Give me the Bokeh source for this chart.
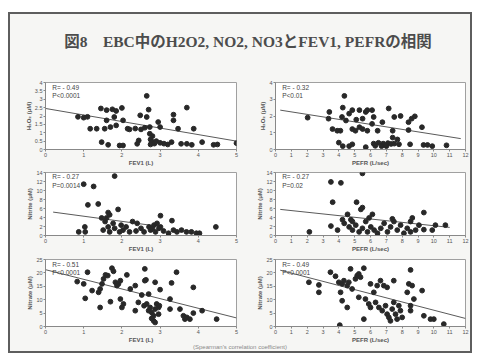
from bokeh.plotting import figure
from bokeh.models import Range1d, FixedTicker, Label, Div
from bokeh.layouts import column, row
from bokeh.embed import file_html
from bokeh.resources import INLINE

TITLE = "図8　EBC中のH2O2, NO2, NO3とFEV1, PEFRの相関"
FOOTER = "(Spearman's correlation coefficient)"

FEV_TICKS = [0, 1, 2, 3, 4, 5]
PEFR_TICKS = list(range(0, 13))
H2O2_TICKS_A = [0, 0.5, 1, 1.5, 2, 2.5, 3, 3.5, 4]
H2O2_TICKS_B = [0, 1, 2, 3, 4]
NITRITE_TICKS = [0, 2, 4, 6, 8, 10, 12, 14]
NITRATE_TICKS = [0, 5, 10, 15, 20, 25]

# Panel 1: FEV1 vs H2O2
fev_h2o2_x = [0.85, 1.0, 1.1, 1.17, 1.34, 1.47, 1.45, 1.6, 1.75, 1.85, 2.0, 1.6, 1.55, 1.7, 1.85, 1.8, 2.03,
              1.64, 1.94, 2.03, 2.15, 2.2, 2.35, 2.5, 2.6, 2.44, 2.4, 2.48, 2.65, 2.7, 2.65, 2.73, 2.73,
              2.75, 2.8, 2.85, 2.9, 3.0, 3.1, 3.2, 2.8, 2.75, 2.95, 3.0, 3.35, 3.35, 3.47, 3.3, 3.7,
              3.55, 3.7, 3.83, 3.88, 4.1, 4.4, 4.5, 5.0]
fev_h2o2_y = [1.95, 1.9, 1.95, 1.24, 1.24, 0.44, 2.45, 2.35, 2.4, 2.3, 2.48, 1.74, 1.24, 1.34, 1.44, 1.94, 1.74,
              0.28, 0.24, 0.24, 1.24, 1.2, 1.25, 1.2, 1.3, 0.54, 0.34, 2.04, 3.2, 2.38, 1.94, 1.34, 0.94,
              0.6, 0.45, 0.35, 0.5, 0.4, 0.35, 0.3, 0.8, 0.3, 1.64, 1.34, 1.74, 2.08, 1.24, 0.44, 2.5,
              0.34, 0.34, 0.28, 1.24, 0.44, 0.28, 0.3, 0.38]
fev_h2o2_fit_x = [0, 5]
fev_h2o2_fit_y = [2.45, 0.5]

# Panel 2: PEFR vs H2O2
pefr_h2o2_x = [2.03, 3.4, 3.35, 3.6, 3.9, 4.1, 4.35, 4.25, 4.2, 4.45, 4.0, 4.25, 4.65, 4.85, 4.65, 4.85, 5.3,
               5.7, 5.8, 4.85, 5.05, 5.3, 5.5, 5.8, 5.1, 5.5, 5.7, 6.1, 6.2, 6.1, 6.45, 6.75, 6.2, 6.5, 6.8,
               7.1, 7.3, 7.5, 6.3, 6.7, 7.0, 7.15, 7.4, 7.4, 7.7, 7.8, 7.5, 7.9, 8.4, 8.6, 8.8, 8.4, 8.5,
               9.25, 9.35, 9.6, 9.9, 10.8]
pefr_h2o2_y = [1.9, 2.24, 1.84, 1.22, 1.12, 1.12, 3.2, 2.5, 1.94, 1.73, 0.41, 0.2, 0.2, 0.31, 2.14, 2.35, 2.35,
               2.24, 2.35, 1.22, 1.12, 1.33, 1.22, 1.12, 1.78, 1.84, 0.14, 2.35, 1.94, 1.53, 1.12, 1.63, 0.35,
               0.4, 0.35, 0.38, 0.33, 0.35, 0.22, 0.2, 0.2, 2.45, 1.12, 0.71, 0.6, 0.31, 1.94, 2.0, 1.63,
               1.84, 1.98, 1.16, 0.31, 1.33, 0.27, 0.27, 0.2, 0.25]
pefr_h2o2_fit_x = [0.3, 11.7]
pefr_h2o2_fit_y = [2.35, 0.65]

# Panel 3: FEV1 vs Nitrite
fev_nitrite_x = [1.81, 1.0, 1.26, 1.11, 1.38, 1.64, 1.9, 1.47, 1.56, 1.03, 0.87, 1.04, 2.28, 3.01, 3.31, 4.46,
                 1.51, 1.64, 1.68, 1.81, 1.94, 2.03, 2.11, 2.2, 2.37, 2.5, 2.58, 2.71, 2.75, 2.84, 2.88,
                 2.97, 3.01, 3.09, 3.22, 3.35, 3.44, 3.56, 3.69, 3.82, 3.95, 4.03,
                 1.6, 1.77, 1.98, 2.8, 2.92, 2.4, 1.68]
fev_nitrite_y = [13.2, 11.4, 10.9, 6.8, 7.0, 5.1, 5.8, 3.9, 3.1, 1.9, 0.8, 0.8, 3.1, 4.4, 3.3, 1.9,
                 1.2, 1.9, 0.8, 1.6, 0.8, 1.2, 1.9, 0.8, 1.0, 1.6, 0.8, 1.9, 1.2, 2.3, 0.8,
                 1.6, 1.9, 1.0, 0.5, 1.2, 0.8, 1.2, 0.8, 0.8, 0.5, 0.5,
                 3.9, 2.7, 2.3, 1.5, 2.7, 2.7, 4.6]
fev_nitrite_fit_x = [0.2, 3.0]
fev_nitrite_fit_y = [5.2, 2.0]

# Panel 4: PEFR vs Nitrite
pefr_nitrite_x = [5.49, 3.5, 4.13, 3.61, 5.12, 5.39, 5.49, 6.12, 9.37, 4.55, 4.76, 3.5, 3.92, 2.14, 8.64, 8.53,
                  10.1, 10.73, 9.9, 9.37,
                  4.34, 4.65, 4.86, 5.07, 5.28, 5.49, 5.7, 5.81, 6.02, 6.23, 6.44, 6.65, 6.86, 7.07, 7.27,
                  7.48, 7.69, 7.9, 8.11, 8.32, 8.53, 8.85, 9.06, 4.23, 5.91, 4.86, 7.38]
pefr_nitrite_y = [13.8, 11.9, 11.7, 7.4, 7.4, 5.8, 6.2, 4.7, 5.1, 4.7, 3.5, 2.1, 1.2, 0.8, 3.9, 3.1,
                  2.3, 2.3, 1.2, 1.3,
                  2.7, 1.9, 1.2, 2.3, 0.8, 1.6, 3.1, 0.8, 1.9, 1.2, 0.5, 1.6, 2.7, 0.8, 1.9,
                  3.1, 1.2, 2.3, 0.5, 1.6, 0.8, 1.2, 2.3, 3.5, 3.9, 3.1, 3.7]
pefr_nitrite_fit_x = [0.3, 11.0]
pefr_nitrite_fit_y = [5.8, 1.8]

# Panel 5: FEV1 vs Nitrate
fev_nitrate_x = [0.83, 1.1, 1.0, 1.04, 1.22, 1.39, 1.43, 1.43, 1.52, 1.57, 1.63, 1.48, 1.7, 1.74, 1.78, 1.83,
                 1.91, 1.96, 1.87, 1.96, 2.0, 2.04, 2.13, 2.22, 2.35, 2.35, 2.43, 2.6, 2.6, 2.63, 2.52, 2.7,
                 2.58, 2.65, 2.7, 2.74, 2.78, 2.83, 2.83, 2.87, 2.91, 2.96, 2.78, 2.87, 2.96, 2.98,
                 2.87, 3.0, 3.26, 3.3, 3.43, 3.26, 3.52, 3.61, 3.65, 3.7, 3.78, 3.87, 3.87, 4.1, 4.48]
fev_nitrate_y = [16.75, 20.25, 15.9, 10.5, 13.4, 12.75, 14.0, 7.1, 17.75, 19.25, 19.0, 15.9, 9.25, 21.75, 20.6, 16.5,
                 15.9, 17.1, 15.25, 10.25, 7.1, 8.4, 19.25, 14.0, 5.9, 15.25, 9.0, 21.5, 17.1, 17.4, 11.75, 12.1,
                 7.75, 8.4, 5.9, 7.1, 5.25, 4.0, 2.1, 6.5, 8.4, 7.1, 3.0, 1.5, 4.6, 7.75,
                 16.5, 13.75, 6.5, 16.25, 20.25, 10.25, 6.5, 4.0, 2.75, 3.4, 2.75, 5.0, 14.6, 5.9, 2.75]
fev_nitrate_fit_x = [0, 5]
fev_nitrate_fit_y = [21.2, 3.2]

# Panel 6: PEFR vs Nitrate
pefr_nitrate_x = [2.11, 2.74, 2.74, 3.47, 3.79, 4.0, 4.21, 4.32, 4.53, 4.63, 4.11, 4.21, 4.53, 4.06, 4.74, 4.84,
                  5.05, 5.16, 5.26, 5.37, 5.58, 5.26, 5.58, 5.68, 5.89, 6.0, 6.0, 6.21, 6.42, 6.63,
                  6.32, 6.53, 6.74, 6.95, 7.05, 7.16, 7.26, 7.37, 7.47, 7.58, 7.68, 7.79, 7.89, 8.0,
                  6.84, 7.05, 7.47, 8.42, 8.53, 8.63, 8.32, 8.74, 8.53, 8.53, 9.26, 9.37, 9.79, 10.0, 10.63]
pefr_nitrate_y = [16.5, 12.75, 15.5, 20.25, 18.75, 16.5, 15.9, 17.1, 15.25, 16.5, 12.75, 9.6, 7.1, 0.5, 21.5, 14.0,
                  17.75, 19.0, 19.6, 18.4, 21.75, 10.9, 2.75, 10.25, 8.4, 7.1, 15.9, 12.75, 15.25, 17.1,
                  9.0, 7.1, 5.9, 7.75, 4.6, 3.4, 2.1, 6.5, 9.0, 4.6, 2.75, 7.75, 5.9, 3.4,
                  15.25, 14.6, 17.1, 15.9, 21.1, 15.25, 12.75, 10.25, 5.9, 7.75, 13.4, 4.0, 2.75, 2.75, 0.9]
pefr_nitrate_fit_x = [0.3, 12.0]
pefr_nitrate_fit_y = [21.0, 3.0]

BG = "#f6f6f4"
EDGE = "#5e5e5e"
TXT = "#555555"
FONT = "Liberation Sans"


def panel(xs, ys, fx, fy, xmax, xticks, ymax, yticks, xlabel, ylabel, rtxt, ptxt, left, h, top, bottom):
    p = figure(width=230, height=h, x_range=Range1d(0, xmax), y_range=Range1d(0, ymax),
               output_backend="svg", toolbar_location=None,
               min_border_left=35, min_border_right=4 if left else 5,
               min_border_top=top, min_border_bottom=bottom)
    p.background_fill_color = "white"
    p.border_fill_color = BG
    p.outline_line_color = "#a0a0a0"
    p.outline_line_width = 1
    p.grid.visible = False
    for ax, ticks, lab in ((p.xaxis[0], xticks, xlabel), (p.yaxis[0], yticks, ylabel)):
        ax.ticker = FixedTicker(ticks=ticks)
        ax.major_label_overrides = {t: f"{t:g}" for t in ticks}
        ax.axis_label = lab
        ax.axis_label_text_font = FONT
        ax.axis_label_text_font_size = "6px"
        ax.axis_label_text_font_style = "bold"
        ax.axis_label_text_color = TXT
        ax.axis_label_standoff = 0
        ax.major_label_text_font = FONT
        ax.major_label_text_font_size = "5.5px"
        ax.major_label_text_color = TXT
        ax.major_label_standoff = 1
        ax.axis_line_color = "#888888"
        ax.major_tick_line_color = "#888888"
        ax.major_tick_out = 2
        ax.major_tick_in = 0
        ax.minor_tick_line_color = None
    p.line(fx, fy, line_color="#5a5a5a", line_width=1)
    p.scatter(xs, ys, size=4.8, fill_color="#282828", line_color="#282828")
    p.add_layout(Label(x=xmax * 0.035, y=ymax * 0.93, text=rtxt, text_font=FONT, text_font_size="6.5px",
                       text_color="#444444", text_baseline="middle"))
    p.add_layout(Label(x=xmax * 0.035, y=ymax * 0.80, text=ptxt, text_font=FONT, text_font_size="6.5px",
                       text_color="#444444", text_baseline="middle"))
    return p


p1 = panel(fev_h2o2_x, fev_h2o2_y, fev_h2o2_fit_x, fev_h2o2_fit_y, 5, FEV_TICKS, 4, H2O2_TICKS_A,
           "FEV1 (L)", "H₂O₂ (μM)", "R= - 0.49", "P<0.0001", True, 95, 8, 20)
p2 = panel(pefr_h2o2_x, pefr_h2o2_y, pefr_h2o2_fit_x, pefr_h2o2_fit_y, 12, PEFR_TICKS, 4, H2O2_TICKS_B,
           "PEFR (L/sec)", "H₂O₂ (μM)", "R= - 0.32", "P<0.01", False, 95, 8, 20)
p3 = panel(fev_nitrite_x, fev_nitrite_y, fev_nitrite_fit_x, fev_nitrite_fit_y, 5, FEV_TICKS, 14, NITRITE_TICKS,
           "FEV1 (L)", "Nitrite (μM)", "R= - 0.27", "P=0.0014", True, 86, 3, 20)
p4 = panel(pefr_nitrite_x, pefr_nitrite_y, pefr_nitrite_fit_x, pefr_nitrite_fit_y, 12, PEFR_TICKS, 14, NITRITE_TICKS,
           "PEFR (L/sec)", "Nitrite (μM)", "R= - 0.27", "P=0.02", False, 86, 3, 20)
p5 = panel(fev_nitrate_x, fev_nitrate_y, fev_nitrate_fit_x, fev_nitrate_fit_y, 5, FEV_TICKS, 25, NITRATE_TICKS,
           "FEV1 (L)", "Nitrate (μM)", "R= - 0.51", "P<0.0001", True, 91, 4, 20)
p6 = panel(pefr_nitrate_x, pefr_nitrate_y, pefr_nitrate_fit_x, pefr_nitrate_fit_y, 12, PEFR_TICKS, 25, NITRATE_TICKS,
           "PEFR (L/sec)", "Nitrate (μM)", "R= - 0.49", "P<0.0001", False, 91, 4, 20)

title_div = Div(text=f'<div style="width:460px;height:60px;box-sizing:border-box;padding-top:17px;padding-left:16px;'
                     f'text-align:center;white-space:nowrap;'
                     f'font-family:\'Liberation Serif\',\'Noto Sans CJK JP\',serif;font-weight:bold;font-size:15.5px;'
                     f'color:#4c4c4c;">{TITLE}</div>',
                width=460, height=60, margin=0, styles={"background-color": BG})
footer_div = Div(text=f'<div style="width:460px;height:8px;text-align:center;font-family:\'Liberation Sans\';'
                      f'font-size:6px;color:#8a8a8a;line-height:8px;white-space:nowrap;'
                      f'transform:translateY(-9px);">{FOOTER}</div>',
                 width=460, height=5, margin=0, styles={"background-color": BG, "overflow": "visible"})

inner = column(title_div, row(p1, p2), row(p3, p4), row(p5, p6), footer_div,
               styles={"background-color": BG})


def bar(w, h):
    return Div(text="", width=w, height=h, margin=0, styles={"background-color": EDGE})


slide = column(bar(464, 2), row(bar(2, 337), inner, bar(2, 337)), bar(464, 2),
               margin=(12, 8, 3, 8))

open("out.html", "w").write(file_html(slide, INLINE))
